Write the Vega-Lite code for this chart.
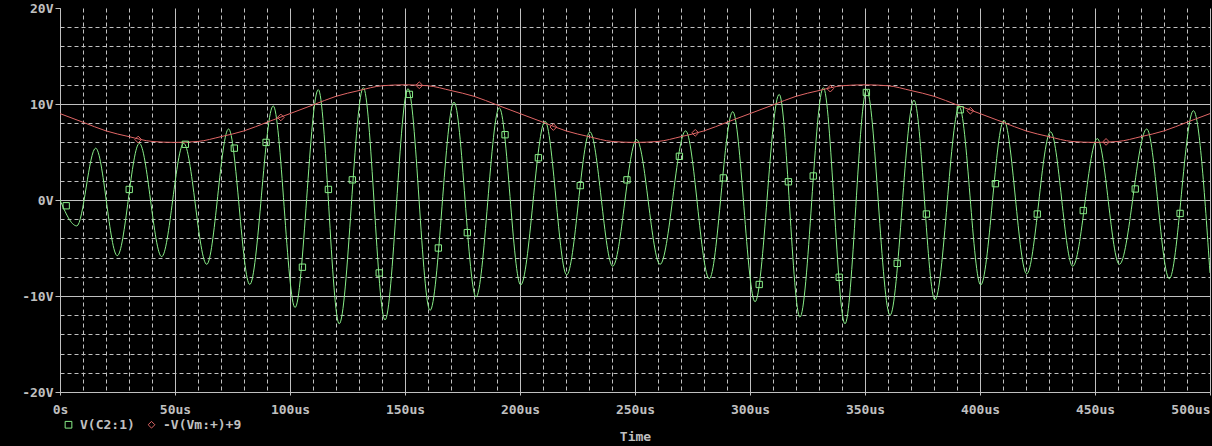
{
  "$schema": "https://vega.github.io/schema/vega-lite/v6.json",
  "width": 1150,
  "height": 384,
  "autosize": {"type": "none"},
  "padding": {"left": 60, "top": 8, "right": 2, "bottom": 54},
  "background": "#000000",
  "config": {
    "view": {"stroke": null},
    "font": "DejaVu Sans Mono",
    "axis": {
      "domainColor": "#c0c0c0",
      "domainWidth": 1,
      "gridColor": "#c0c0c0",
      "gridWidth": 1,
      "gridOpacity": 1,
      "tickColor": "#c0c0c0",
      "labelColor": "#c0c0c0",
      "labelFont": "DejaVu Sans Mono",
      "labelFontSize": 13,
      "labelFontWeight": "bold",
      "titleColor": "#c0c0c0",
      "titleFont": "DejaVu Sans Mono",
      "titleFontSize": 13,
      "titleFontWeight": "bold"
    },
    "legend": {
      "orient": "none",
      "legendX": 2,
      "legendY": 410,
      "direction": "horizontal",
      "labelColor": "#c0c0c0",
      "labelFont": "DejaVu Sans Mono",
      "labelFontSize": 13,
      "labelFontWeight": "bold",
      "symbolSize": 45,
      "symbolStrokeWidth": 1,
      "columnPadding": 10,
      "labelOffset": 5,
      "padding": 0
    }
  },
  "datasets": {
    "green": [
      {"t": 0, "v": 0.0}, {"t": 7.3, "v": -2.7}, {"t": 15.5, "v": 5.4}, {"t": 24.9, "v": -5.8},
      {"t": 34.5, "v": 5.9}, {"t": 44.2, "v": -5.9}, {"t": 53.8, "v": 5.9}, {"t": 63.8, "v": -6.7},
      {"t": 73.3, "v": 7.4}, {"t": 82.5, "v": -8.8}, {"t": 92.7, "v": 9.8}, {"t": 102.2, "v": -11.2},
      {"t": 112.3, "v": 11.5}, {"t": 121.4, "v": -12.9}, {"t": 131.9, "v": 11.7}, {"t": 141.3, "v": -12.5},
      {"t": 151.3, "v": 11.6}, {"t": 160.9, "v": -11.5}, {"t": 171.3, "v": 10.2}, {"t": 180.9, "v": -10.1},
      {"t": 191.0, "v": 9.6}, {"t": 200.3, "v": -8.85}, {"t": 210.9, "v": 8.2}, {"t": 220.3, "v": -7.8},
      {"t": 230.4, "v": 7.1}, {"t": 240.3, "v": -6.9}, {"t": 250.7, "v": 6.3}, {"t": 260.9, "v": -6.7},
      {"t": 272.0, "v": 7.2}, {"t": 282.3, "v": -8.2}, {"t": 292.5, "v": 9.2}, {"t": 302.2, "v": -10.6},
      {"t": 312.7, "v": 11.0}, {"t": 321.7, "v": -12.2}, {"t": 331.9, "v": 11.7}, {"t": 341.3, "v": -12.9},
      {"t": 350.7, "v": 11.5}, {"t": 360.9, "v": -12.0}, {"t": 371.3, "v": 10.4}, {"t": 380.4, "v": -10.4},
      {"t": 391.0, "v": 9.7}, {"t": 400.3, "v": -8.85}, {"t": 410.4, "v": 8.3}, {"t": 420.3, "v": -7.7},
      {"t": 430.7, "v": 7.1}, {"t": 440.3, "v": -6.9}, {"t": 451.0, "v": 6.4}, {"t": 460.6, "v": -6.7},
      {"t": 472.5, "v": 7.4}, {"t": 482.3, "v": -8.2}, {"t": 492.8, "v": 9.3}, {"t": 500, "v": -7.6}
    ],
    "red": [
      {"t": 0, "v": 9.0}, {"t": 10, "v": 8.1}, {"t": 20, "v": 7.2}, {"t": 30, "v": 6.6}, {"t": 40, "v": 6.1},
      {"t": 50, "v": 6.0}, {"t": 60, "v": 6.1}, {"t": 70, "v": 6.6}, {"t": 80, "v": 7.2}, {"t": 90, "v": 8.1},
      {"t": 100, "v": 9.0}, {"t": 110, "v": 9.9}, {"t": 120, "v": 10.8}, {"t": 130, "v": 11.4}, {"t": 140, "v": 11.9},
      {"t": 150, "v": 12.0}, {"t": 160, "v": 11.9}, {"t": 170, "v": 11.4}, {"t": 180, "v": 10.8}, {"t": 190, "v": 9.9},
      {"t": 200, "v": 9.0}, {"t": 210, "v": 8.1}, {"t": 220, "v": 7.2}, {"t": 230, "v": 6.6}, {"t": 240, "v": 6.1},
      {"t": 250, "v": 6.0}, {"t": 260, "v": 6.1}, {"t": 270, "v": 6.6}, {"t": 280, "v": 7.2}, {"t": 290, "v": 8.1},
      {"t": 300, "v": 9.0}, {"t": 310, "v": 9.9}, {"t": 320, "v": 10.8}, {"t": 330, "v": 11.4}, {"t": 340, "v": 11.9},
      {"t": 350, "v": 12.0}, {"t": 360, "v": 11.9}, {"t": 370, "v": 11.4}, {"t": 380, "v": 10.8}, {"t": 390, "v": 9.9},
      {"t": 400, "v": 9.0}, {"t": 410, "v": 8.1}, {"t": 420, "v": 7.2}, {"t": 430, "v": 6.6}, {"t": 440, "v": 6.1},
      {"t": 450, "v": 6.0}, {"t": 460, "v": 6.1}, {"t": 470, "v": 6.6}, {"t": 480, "v": 7.2}, {"t": 490, "v": 8.1},
      {"t": 500, "v": 9.0}
    ],
    "greenMarkers": [
      {"t": 2.7, "v": -0.6}, {"t": 30.1, "v": 1.1}, {"t": 54.5, "v": 5.8}, {"t": 75.8, "v": 5.4},
      {"t": 89.6, "v": 6.0}, {"t": 105.4, "v": -7.0}, {"t": 116.7, "v": 1.1}, {"t": 127.1, "v": 2.1},
      {"t": 138.8, "v": -7.6}, {"t": 151.9, "v": 11.0}, {"t": 164.5, "v": -5.0}, {"t": 177.1, "v": -3.4},
      {"t": 193.5, "v": 6.8}, {"t": 208.0, "v": 4.4}, {"t": 226.2, "v": 1.5}, {"t": 246.5, "v": 2.1},
      {"t": 269.3, "v": 4.55}, {"t": 288.4, "v": 2.3}, {"t": 304.0, "v": -8.8}, {"t": 316.7, "v": 1.9},
      {"t": 327.5, "v": 2.5}, {"t": 338.8, "v": -8.05}, {"t": 350.6, "v": 11.2}, {"t": 364.0, "v": -6.6},
      {"t": 376.7, "v": -1.46}, {"t": 391.4, "v": 9.4}, {"t": 406.7, "v": 1.7}, {"t": 424.9, "v": -1.46},
      {"t": 444.9, "v": -1.1}, {"t": 467.5, "v": 1.15}, {"t": 487.0, "v": -1.4}
    ],
    "redMarkers": [
      {"t": 34.0, "v": 6.3}, {"t": 96.0, "v": 8.6}, {"t": 156.2, "v": 11.95}, {"t": 214.5, "v": 7.6},
      {"t": 276.2, "v": 7.0}, {"t": 334.9, "v": 11.6}, {"t": 395.8, "v": 9.3}, {"t": 454.8, "v": 6.05}
    ]
  },
  "encoding": {
    "x": {
      "field": "t",
      "type": "quantitative",
      "scale": {"domain": [0, 500], "nice": false, "zero": false},
      "axis": {
        "title": "Time",
        "values": [0,10,20,30,40,50,60,70,80,90,100,110,120,130,140,150,160,170,180,190,200,210,220,230,240,250,260,270,280,290,300,310,320,330,340,350,360,370,380,390,400,410,420,430,440,450,460,470,480,490,500],
        "labelExpr": "datum.value % 50 === 0 ? (datum.value === 0 ? '0s' : datum.value + 'us') : ''",
        "labelFlush": false,
        "labelAlign": {"condition": {"test": "datum.value === 500", "value": "right"}, "value": "center"},
        "labelPadding": 8,
        "labelOverlap": false,
        "labelBound": false,
        "tickSize": 3,
        "tickOpacity": {"condition": {"test": "datum.value % 50 === 0", "value": 1}, "value": 0},
        "gridDash": {"condition": {"test": "datum.value % 50 === 0", "value": []}, "value": [4, 3]},
        "titlePadding": 14
      }
    },
    "y": {
      "field": "v",
      "type": "quantitative",
      "scale": {"domain": [-20, 20], "nice": false, "zero": false},
      "axis": {
        "title": null,
        "values": [-20,-18,-16,-14,-12,-10,-8,-6,-4,-2,0,2,4,6,8,10,12,14,16,18,20],
        "labelExpr": "datum.value % 10 === 0 ? datum.value + 'V' : ''",
        "labelPadding": 2,
        "labelOverlap": false,
        "tickSize": 5,
        "tickOpacity": {"condition": {"test": "datum.value % 10 === 0", "value": 1}, "value": 0},
        "gridDash": {"condition": {"test": "datum.value % 10 === 0", "value": []}, "value": [4, 3]},
        "gridOpacity": {"condition": {"test": "datum.value === 20", "value": 0}, "value": 1}
      }
    }
  },
  "layer": [
    {
      "data": {"name": "green"},
      "mark": {"type": "line", "color": "#88ee88", "strokeWidth": 1, "interpolate": "monotone", "clip": true}
    },
    {
      "data": {"name": "red"},
      "mark": {"type": "line", "color": "#e06666", "strokeWidth": 1, "interpolate": "monotone", "clip": true}
    },
    {
      "data": {"name": "greenMarkers"},
      "mark": {"type": "point", "filled": false, "size": 40, "strokeWidth": 1, "opacity": 1},
      "encoding": {
        "stroke": {"datum": "V(C2:1)", "type": "nominal", "title": null, "scale": {"domain": ["V(C2:1)", "-V(Vm:+)+9"], "range": ["#88ee88", "#e06666"]}},
        "shape": {"datum": "V(C2:1)", "type": "nominal", "title": null, "scale": {"domain": ["V(C2:1)", "-V(Vm:+)+9"], "range": ["square", "diamond"]}}
      }
    },
    {
      "data": {"name": "redMarkers"},
      "mark": {"type": "point", "filled": false, "size": 45, "strokeWidth": 1, "opacity": 1},
      "encoding": {
        "stroke": {"datum": "-V(Vm:+)+9", "type": "nominal", "title": null, "scale": {"domain": ["V(C2:1)", "-V(Vm:+)+9"], "range": ["#88ee88", "#e06666"]}},
        "shape": {"datum": "-V(Vm:+)+9", "type": "nominal", "title": null, "scale": {"domain": ["V(C2:1)", "-V(Vm:+)+9"], "range": ["square", "diamond"]}}
      }
    }
  ]
}
